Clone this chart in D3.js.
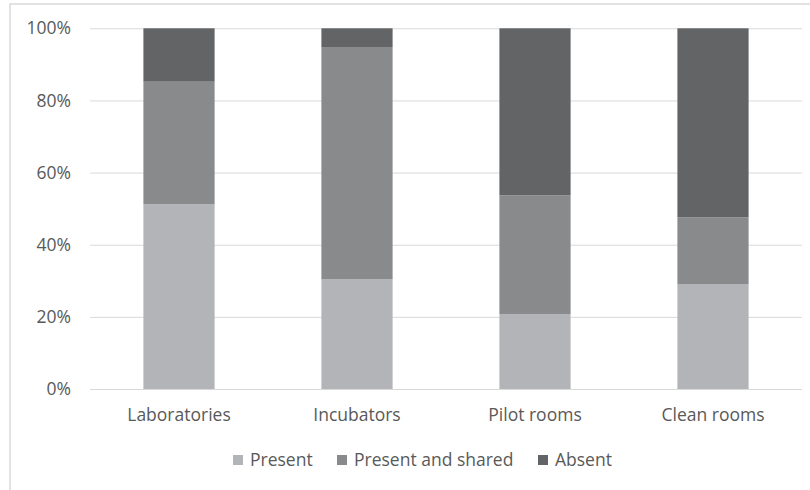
<!DOCTYPE html>
<html><head><meta charset="utf-8">
<script src="https://cdn.jsdelivr.net/npm/d3@7/dist/d3.min.js"></script>
<style>body{margin:0;background:#fff;overflow:hidden}svg{display:block}</style>
</head><body>
<svg id="c" width="810" height="490"></svg>
<script>
const categories = ["Laboratories", "Incubators", "Pilot rooms", "Clean rooms"];
const seriesNames = ["Present", "Present and shared", "Absent"];
const present = [51.2, 30.4, 20.8, 29.0];
const presentShared = [34.0, 64.4, 32.9, 18.6];
const absent = [14.8, 5.2, 46.3, 52.4];
const yTicks = [0, 20, 40, 60, 80, 100];
const colors = ["#b3b4b7", "#898a8c", "#636466"];

const svg = d3.select("#c");
const font = "'Open Sans', sans-serif";
const fs = "17.5px";
const textColor = "#595959";

// chart frame
svg.append("rect").attr("x", 10).attr("y", 4).attr("width", 900).attr("height", 700)
  .attr("fill", "none").attr("stroke", "#d9d9d9").attr("stroke-width", 1.5);

const m = {left: 90, right: 802, top: 28.3, bottom: 389};
const x = d3.scaleBand().domain(categories).range([m.left, m.right]).paddingInner(0.6).paddingOuter(0.3);
const y = d3.scaleLinear().domain([0, 100]).range([m.bottom, m.top]);

const rows = categories.map((c, i) => ({cat: c, Present: present[i], "Present and shared": presentShared[i], Absent: absent[i]}));
const stacked = d3.stack().keys(seriesNames)(rows);

// gridlines + y labels
const yAxis = d3.axisLeft(y).tickValues(yTicks).tickSize(-(m.right - m.left)).tickFormat(d => d + "%").tickPadding(19);
const gy = svg.append("g").attr("transform", `translate(${m.left},0)`).call(yAxis);
gy.select(".domain").remove();
gy.selectAll(".tick line").attr("stroke", "#d9d9d9").attr("stroke-width", 1);
gy.selectAll(".tick text").attr("fill", textColor).style("font-family", font).style("font-size", fs);

// bars
svg.append("g").selectAll("g").data(stacked).join("g")
  .attr("fill", (d, i) => colors[i])
  .selectAll("rect").data(d => d).join("rect")
  .attr("x", d => x(d.data.cat))
  .attr("width", x.bandwidth())
  .attr("y", d => y(d[1]))
  .attr("height", d => y(d[0]) - y(d[1]));

// x axis
const xAxis = d3.axisBottom(x).tickSize(0).tickPadding(20);
const gx = svg.append("g").attr("transform", `translate(0,${m.bottom})`).call(xAxis);
gx.select(".domain").attr("stroke", "#d9d9d9").attr("d", `M${m.left},0.5H${m.right}`);
gx.selectAll(".tick text").attr("fill", textColor).style("font-family", font).style("font-size", fs);

// legend
const legendX = [233, 337, 538];
const lg = svg.append("g").selectAll("g").data(seriesNames).join("g")
  .attr("transform", (d, i) => `translate(${legendX[i]},460)`);
lg.append("rect").attr("x", 0).attr("y", -5).attr("width", 10).attr("height", 10).attr("fill", (d, i) => colors[i]);
lg.append("text").attr("x", 17).attr("y", 0).attr("dy", "0.35em").text(d => d)
  .attr("fill", textColor).style("font-family", font).style("font-size", fs);
</script>
</body></html>
